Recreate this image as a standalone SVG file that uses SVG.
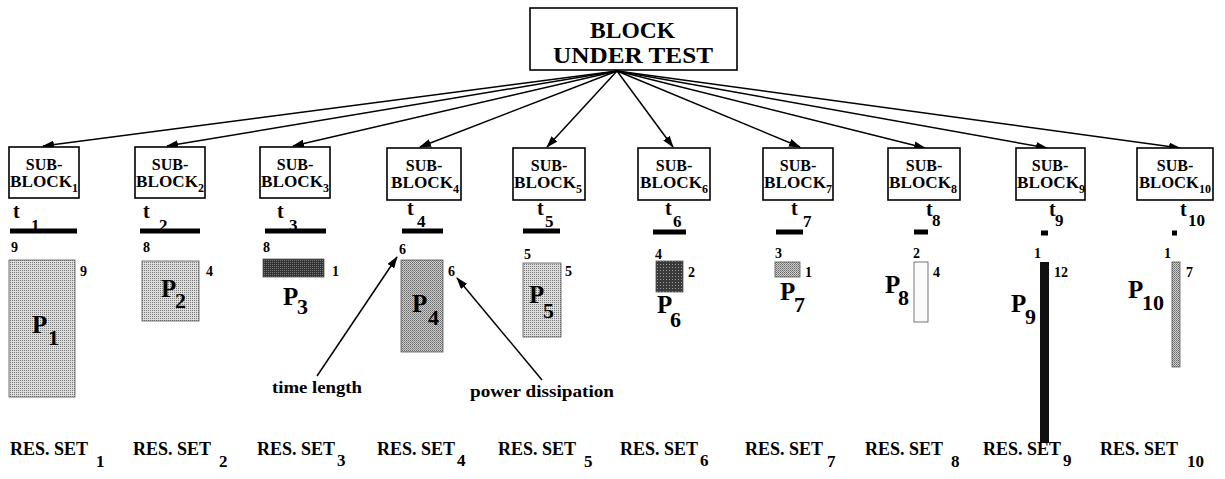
<svg xmlns="http://www.w3.org/2000/svg" width="1225" height="479" viewBox="0 0 1225 479" font-family="'Liberation Serif', 'DejaVu Serif', serif" font-weight="bold">
<defs>
<marker id="ah" markerWidth="12" markerHeight="8" refX="11" refY="4" orient="auto" markerUnits="userSpaceOnUse">
<path d="M0,0 L12,4 L0,8 Z" fill="#000"/>
</marker>
<pattern id="light" width="2" height="2" patternUnits="userSpaceOnUse">
<rect width="2" height="2" fill="#dedede"/><rect width="1" height="1" fill="#777"/>
</pattern>
<pattern id="medium" width="2" height="2" patternUnits="userSpaceOnUse">
<rect width="2" height="2" fill="#cfcfcf"/><rect width="1" height="1" fill="#666"/><rect x="1" y="1" width="1" height="1" fill="#888"/>
</pattern>
<pattern id="dark" width="2" height="2" patternUnits="userSpaceOnUse">
<rect width="2" height="2" fill="#333"/><rect width="1" height="1" fill="#777"/>
</pattern>
<pattern id="dark6" width="3" height="3" patternUnits="userSpaceOnUse">
<rect width="3" height="3" fill="#3a3a3a"/><rect width="1" height="1" fill="#999"/>
</pattern>
<style>
text{font-family:'Liberation Serif','DejaVu Serif',serif;font-weight:bold;fill:#000}
.box{fill:#fff;stroke:#000;stroke-width:1.6}
.title{font-size:24px}
.sb{font-size:16px}
.sbs{font-size:12px}
.t{font-size:20px}
.ts{font-size:17px}
.bar{stroke:#000;stroke-width:5}
.num{font-size:14px}
.p{font-size:25px}
.ps{font-size:22px}
.rs{font-size:18px}
.rss{font-size:17px}
.ann{font-size:17px}
.pw{stroke:#555;stroke-width:0.8}
.conn{stroke:#000;stroke-width:1.5;fill:none;marker-end:url(#ah)}
</style>
</defs>
<rect width="1225" height="479" fill="#fff"/>

<g id="block-under-test">
<rect class="box" x="530" y="8" width="207" height="62"/>
<text class="title" x="590" y="38" textLength="85" lengthAdjust="spacingAndGlyphs">BLOCK</text>
<text class="title" x="553" y="63" textLength="160" lengthAdjust="spacingAndGlyphs">UNDER TEST</text>
</g>

<g id="connectors">
<line class="conn" x1="617" y1="71" x2="43" y2="146"/>
<line class="conn" x1="617" y1="71" x2="167" y2="146"/>
<line class="conn" x1="617" y1="71" x2="293" y2="146"/>
<line class="conn" x1="617" y1="71" x2="420" y2="147"/>
<line class="conn" x1="617" y1="71" x2="547" y2="147"/>
<line class="conn" x1="617" y1="71" x2="673" y2="147"/>
<line class="conn" x1="617" y1="71" x2="800" y2="147"/>
<line class="conn" x1="617" y1="71" x2="925" y2="148"/>
<line class="conn" x1="617" y1="71" x2="1047" y2="148"/>
<line class="conn" x1="617" y1="71" x2="1180" y2="148"/>
<line class="conn" x1="317" y1="376" x2="397" y2="257"/>
<line class="conn" x1="542" y1="380" x2="457" y2="278"/>
</g>

<g id="sub-block-1">
<rect class="box" x="9" y="147" width="70" height="51"/>
<text class="sb" x="44" y="170" text-anchor="middle">SUB-</text>
<text class="sb" x="10" y="187"><tspan textLength="62" lengthAdjust="spacingAndGlyphs">BLOCK</tspan><tspan class="sbs" dy="5">1</tspan></text>
</g>
<g id="sub-block-2">
<rect class="box" x="135" y="147" width="70" height="51"/>
<text class="sb" x="170" y="170" text-anchor="middle">SUB-</text>
<text class="sb" x="136" y="187"><tspan textLength="62" lengthAdjust="spacingAndGlyphs">BLOCK</tspan><tspan class="sbs" dy="5">2</tspan></text>
</g>
<g id="sub-block-3">
<rect class="box" x="260" y="147" width="70" height="51"/>
<text class="sb" x="295" y="170" text-anchor="middle">SUB-</text>
<text class="sb" x="261" y="187"><tspan textLength="62" lengthAdjust="spacingAndGlyphs">BLOCK</tspan><tspan class="sbs" dy="5">3</tspan></text>
</g>
<g id="sub-block-4">
<rect class="box" x="387" y="148" width="74" height="52"/>
<text class="sb" x="424" y="171" text-anchor="middle">SUB-</text>
<text class="sb" x="391" y="188"><tspan textLength="62" lengthAdjust="spacingAndGlyphs">BLOCK</tspan><tspan class="sbs" dy="5">4</tspan></text>
</g>
<g id="sub-block-5">
<rect class="box" x="513" y="148" width="72" height="52"/>
<text class="sb" x="549" y="171" text-anchor="middle">SUB-</text>
<text class="sb" x="514" y="188"><tspan textLength="62" lengthAdjust="spacingAndGlyphs">BLOCK</tspan><tspan class="sbs" dy="5">5</tspan></text>
</g>
<g id="sub-block-6">
<rect class="box" x="638" y="148" width="72" height="52"/>
<text class="sb" x="674" y="171" text-anchor="middle">SUB-</text>
<text class="sb" x="640" y="188"><tspan textLength="62" lengthAdjust="spacingAndGlyphs">BLOCK</tspan><tspan class="sbs" dy="5">6</tspan></text>
</g>
<g id="sub-block-7">
<rect class="box" x="763" y="148" width="70" height="52"/>
<text class="sb" x="798" y="171" text-anchor="middle">SUB-</text>
<text class="sb" x="764" y="188"><tspan textLength="62" lengthAdjust="spacingAndGlyphs">BLOCK</tspan><tspan class="sbs" dy="5">7</tspan></text>
</g>
<g id="sub-block-8">
<rect class="box" x="888" y="148" width="72" height="52"/>
<text class="sb" x="924" y="171" text-anchor="middle">SUB-</text>
<text class="sb" x="889" y="188"><tspan textLength="62" lengthAdjust="spacingAndGlyphs">BLOCK</tspan><tspan class="sbs" dy="5">8</tspan></text>
</g>
<g id="sub-block-9">
<rect class="box" x="1016" y="148" width="69" height="52"/>
<text class="sb" x="1050" y="171" text-anchor="middle">SUB-</text>
<text class="sb" x="1017" y="188"><tspan textLength="62" lengthAdjust="spacingAndGlyphs">BLOCK</tspan><tspan class="sbs" dy="5">9</tspan></text>
</g>
<g id="sub-block-10">
<rect class="box" x="1137" y="148" width="76" height="52"/>
<text class="sb" x="1175" y="171" text-anchor="middle">SUB-</text>
<text class="sb" x="1139" y="188"><tspan textLength="60" lengthAdjust="spacingAndGlyphs">BLOCK</tspan><tspan class="sbs" dy="5">10</tspan></text>
</g>

<g id="time-1"><line class="bar" x1="10" y1="231" x2="77" y2="231"/><text class="t" x="13" y="218">t</text><text class="ts" x="31" y="231">1</text></g>
<g id="time-2"><line class="bar" x1="140" y1="231" x2="200" y2="231"/><text class="t" x="143" y="218">t</text><text class="ts" x="159" y="231">2</text></g>
<g id="time-3"><line class="bar" x1="265" y1="231" x2="326" y2="231"/><text class="t" x="277" y="218">t</text><text class="ts" x="289" y="231">3</text></g>
<g id="time-4"><line class="bar" x1="402" y1="231" x2="443" y2="231"/><text class="t" x="407" y="215">t</text><text class="ts" x="417" y="227">4</text></g>
<g id="time-5"><line class="bar" x1="523" y1="231" x2="560" y2="231"/><text class="t" x="537" y="215">t</text><text class="ts" x="545" y="227">5</text></g>
<g id="time-6"><line class="bar" x1="653" y1="232" x2="686" y2="232"/><text class="t" x="665" y="215">t</text><text class="ts" x="673" y="227">6</text></g>
<g id="time-7"><line class="bar" x1="776" y1="232" x2="803" y2="232"/><text class="t" x="791" y="215">t</text><text class="ts" x="803" y="227">7</text></g>
<g id="time-8"><line class="bar" x1="914" y1="232" x2="928" y2="232"/><text class="t" x="926" y="216">t</text><text class="ts" x="932" y="226">8</text></g>
<g id="time-9"><line class="bar" x1="1041" y1="233" x2="1048" y2="233"/><text class="t" x="1049" y="216">t</text><text class="ts" x="1055" y="226">9</text></g>
<g id="time-10"><line class="bar" x1="1172" y1="233" x2="1177" y2="233"/><text class="t" x="1180" y="216">t</text><text class="ts" x="1188" y="226">10</text></g>

<g id="power-1"><rect class="pw" x="9" y="260" width="66" height="137" fill="url(#light)"/><text class="num" x="11" y="252">9</text><text class="num" x="80" y="276">9</text><text class="p" x="32" y="333">P</text><text class="ps" x="48" y="345">1</text></g>
<g id="power-2"><rect class="pw" x="142" y="261" width="57" height="60" fill="url(#light)"/><text class="num" x="143" y="252">8</text><text class="num" x="206" y="276">4</text><text class="p" x="161" y="297">P</text><text class="ps" x="175" y="308">2</text></g>
<g id="power-3"><rect class="pw" x="263" y="259" width="61" height="18" fill="url(#dark)"/><text class="num" x="263" y="252">8</text><text class="num" x="332" y="276">1</text><text class="p" x="283" y="305">P</text><text class="ps" x="297" y="314">3</text></g>
<g id="power-4"><rect class="pw" x="401" y="260" width="42" height="92" fill="url(#medium)"/><text class="num" x="399" y="254">6</text><text class="num" x="448" y="276">6</text><text class="p" x="412" y="312">P</text><text class="ps" x="428" y="325">4</text></g>
<g id="power-5"><rect class="pw" x="523" y="263" width="38" height="74" fill="url(#light)"/><text class="num" x="524" y="259">5</text><text class="num" x="565" y="276">5</text><text class="p" x="529" y="303">P</text><text class="ps" x="543" y="318">5</text></g>
<g id="power-6"><rect class="pw" x="656" y="261" width="27" height="31" fill="url(#dark6)"/><text class="num" x="655" y="259">4</text><text class="num" x="688" y="277">2</text><text class="p" x="657" y="313">P</text><text class="ps" x="670" y="327">6</text></g>
<g id="power-7"><rect class="pw" x="775" y="262" width="25" height="15" fill="url(#medium)"/><text class="num" x="775" y="258">3</text><text class="num" x="805" y="277">1</text><text class="p" x="780" y="300">P</text><text class="ps" x="794" y="312">7</text></g>
<g id="power-8"><rect class="pw" x="914" y="262" width="14" height="60" fill="#fbfbfb"/><text class="num" x="913" y="258">2</text><text class="num" x="933" y="277">4</text><text class="p" x="885" y="293">P</text><text class="ps" x="898" y="305">8</text></g>
<g id="power-9"><rect x="1040" y="262" width="9" height="181" fill="#111"/><text class="num" x="1034" y="258">1</text><text class="num" x="1054" y="277">12</text><text class="p" x="1011" y="312">P</text><text class="ps" x="1025" y="324">9</text></g>
<g id="power-10"><rect class="pw" x="1172" y="262" width="8" height="105" fill="url(#medium)"/><text class="num" x="1164" y="258">1</text><text class="num" x="1186" y="277">7</text><text class="p" x="1128" y="298">P</text><text class="ps" x="1142" y="310">10</text></g>

<g id="annotations">
<text class="ann" x="272" y="393" textLength="90" lengthAdjust="spacingAndGlyphs">time length</text>
<text class="ann" x="470" y="397" textLength="144" lengthAdjust="spacingAndGlyphs">power  dissipation</text>
</g>

<g id="result-sets">
<text class="rs" x="10" y="455">RES. SET<tspan class="rss" dx="8" dy="12">1</tspan></text>
<text class="rs" x="133" y="455">RES. SET<tspan class="rss" dx="8" dy="12">2</tspan></text>
<text class="rs" x="257" y="455">RES. SET<tspan class="rss" dx="2" dy="11">3</tspan></text>
<text class="rs" x="377" y="455">RES. SET<tspan class="rss" dx="2" dy="11">4</tspan></text>
<text class="rs" x="498" y="455">RES. SET<tspan class="rss" dx="8" dy="12">5</tspan></text>
<text class="rs" x="620" y="455">RES. SET<tspan class="rss" dx="2" dy="11">6</tspan></text>
<text class="rs" x="745" y="455">RES. SET<tspan class="rss" dx="4" dy="12">7</tspan></text>
<text class="rs" x="865" y="455">RES. SET<tspan class="rss" dx="8" dy="12">8</tspan></text>
<text class="rs" x="983" y="455">RES. SET<tspan class="rss" dx="2" dy="11">9</tspan></text>
<text class="rs" x="1100" y="455">RES. SET<tspan class="rss" dx="9" dy="12">10</tspan></text>
</g>
</svg>
